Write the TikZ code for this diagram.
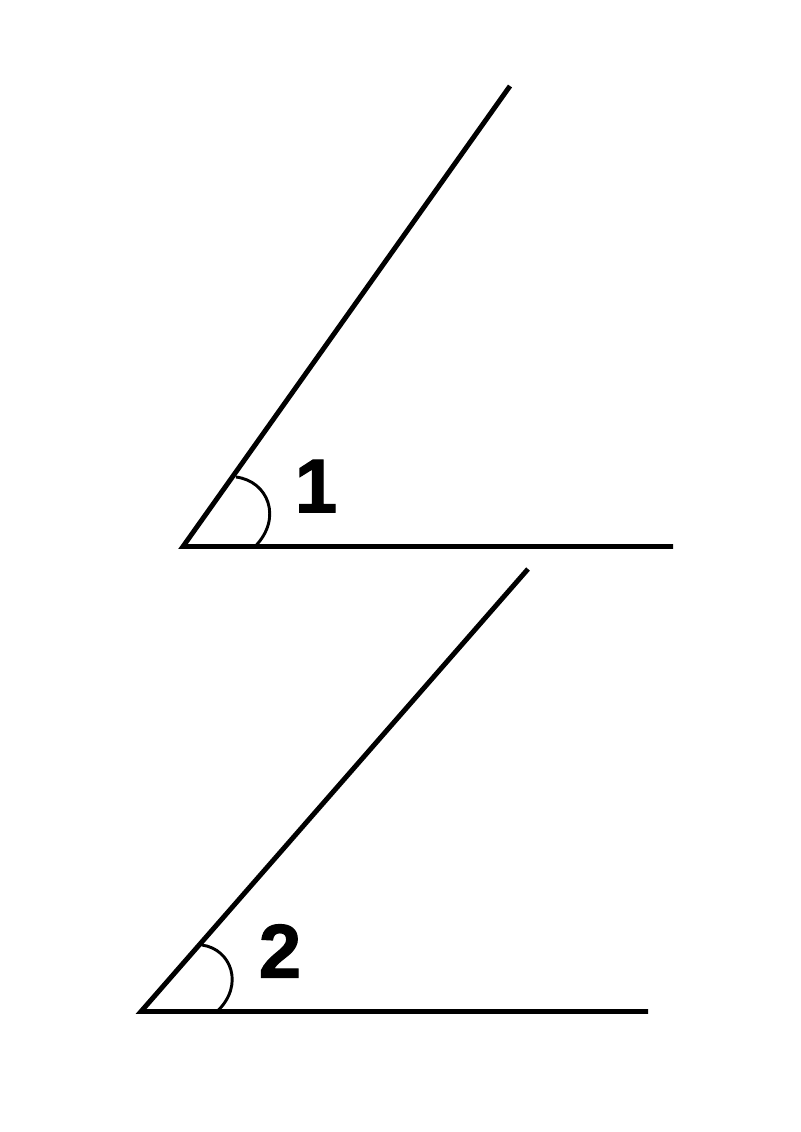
\documentclass[tikz,border=0pt]{standalone}
\usepackage{fontspec}
\setmainfont{Liberation Sans}
\newfontfamily\heavyfont[BoldFont={* Bold},BoldFeatures={FakeBold=1.6}]{Liberation Sans}
\begin{document}
\begin{tikzpicture}[x=0.75pt,y=-0.75pt,
  side/.style={line width=3.7pt,line cap=butt},
  anglearc/.style={line width=2.2pt},
  lbl/.style={font=\heavyfont\fontsize{57}{60}\bfseries\selectfont,inner sep=0pt}]
\useasboundingbox (0,0) rectangle (800,1132);
% angle 1
\coordinate (V1) at (183,546.5);
\coordinate (H1) at (673,546.5);
\coordinate (R1) at (510,86);
\draw[side] (R1) -- (V1) -- (H1);
\coordinate (A1s) at (236,477);
\coordinate (A1e) at (255,546.5);
\draw[anglearc] (A1s) .. controls (268,481) and (283,518) .. (A1e);
\node[lbl] (L1) at (316,486) {1};
% angle 2
\coordinate (V2) at (141,1011.5);
\coordinate (H2) at (648,1011.5);
\coordinate (R2) at (528,569);
\draw[side] (R2) -- (V2) -- (H2);
\coordinate (A2s) at (202,945);
\coordinate (A2e) at (217,1011.5);
\draw[anglearc] (A2s) .. controls (231,949) and (245,985) .. (A2e);
\node[lbl] (L2) at (280,951) {2};
\end{tikzpicture}
\end{document}
